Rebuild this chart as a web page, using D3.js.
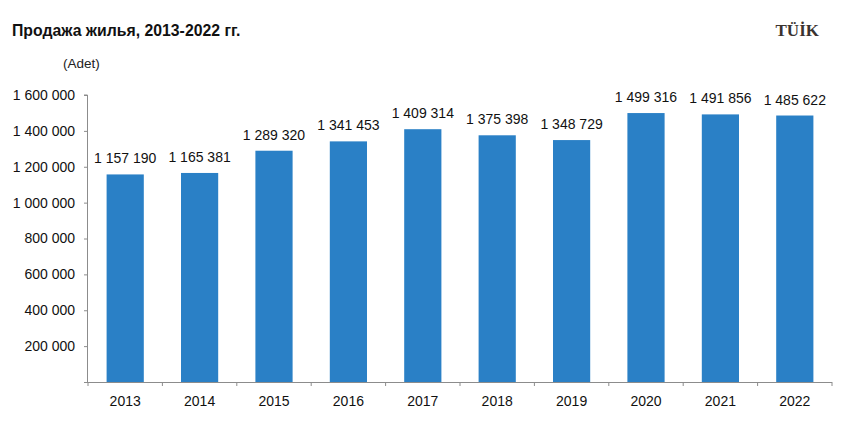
<!DOCTYPE html>
<html>
<head>
<meta charset="utf-8">
<script src="https://cdn.jsdelivr.net/npm/d3@7"></script>
<style>
  body { margin: 0; background: #fff; }
  text { font-family: "Liberation Sans", Arial, sans-serif; }
</style>
</head>
<body>
<div id="chart"></div>
<script>
// data
var years = ["2013", "2014", "2015", "2016", "2017", "2018", "2019", "2020", "2021", "2022"];
var sales = [1157190, 1165381, 1289320, 1341453, 1409314, 1375398, 1348729, 1499316, 1491856, 1485622];
var yTicks = [200000, 400000, 600000, 800000, 1000000, 1200000, 1400000, 1600000];

var width = 849, height = 424;
var margin = {top: 95, right: 17, bottom: 42, left: 88};
var w = width - margin.left - margin.right,
    h = height - margin.top - margin.bottom;

// russian-style thousands: space separator
var fmt = function (v) {
    return d3.format(",")(v).replace(/,/g, " ");
};

var svg = d3.select("#chart")
    .append("svg")
    .attr("width", width)
    .attr("height", height);

// title
svg.append("text")
    .attr("x", 12)
    .attr("y", 36)
    .attr("font-size", "15.8px")
    .attr("font-weight", "bold")
    .attr("fill", "#111")
    .text("Продажа жилья, 2013-2022 гг.");

svg.append("text")
    .attr("x", 819)
    .attr("y", 36)
    .attr("text-anchor", "end")
    .attr("font-size", "17px")
    .attr("font-weight", "bold")
    .style("font-family", "'Liberation Serif', 'DejaVu Serif', serif")
    .attr("fill", "#3a3330")
    .text("TÜİK");

svg.append("text")
    .attr("x", 63)
    .attr("y", 68)
    .attr("font-size", "13.5px")
    .attr("fill", "#222")
    .text("(Adet)");

var g = svg.append("g")
    .attr("transform", "translate(" + margin.left + "," + margin.top + ")");

var x = d3.scaleBand()
    .domain(years)
    .range([0, w])
    .paddingInner(0.5)
    .paddingOuter(0.25);

var y = d3.scaleLinear()
    .domain([0, 1600000])
    .range([h, 0]);

// y axis
var yAxis = g.append("g")
    .call(d3.axisLeft(y).tickValues(yTicks).tickSize(4).tickPadding(9).tickFormat(fmt));
yAxis.select(".domain").attr("stroke", "#8c8c8c").attr("d", "M-0.5," + h + "V0H-4");
yAxis.selectAll(".tick line").attr("stroke", "#8c8c8c");
yAxis.selectAll(".tick text").attr("font-size", "14px").attr("fill", "#111")
    .style("font-family", "'Liberation Sans', Arial, sans-serif");

// bars
g.selectAll(".bar")
    .data(sales)
    .enter()
    .append("rect")
    .attr("class", "bar")
    .attr("x", function (d, i) { return x(years[i]); })
    .attr("y", function (d) { return y(d); })
    .attr("width", x.bandwidth())
    .attr("height", function (d) { return h - y(d); })
    .attr("fill", "#2a80c6");

// value labels
g.selectAll(".lbl")
    .data(sales)
    .enter()
    .append("text")
    .attr("class", "lbl")
    .attr("x", function (d, i) { return x(years[i]) + x.bandwidth() / 2; })
    .attr("y", function (d) { return y(d) - 11; })
    .attr("text-anchor", "middle")
    .attr("font-size", "14px")
    .attr("fill", "#111")
    .text(fmt);

// x axis
var xAxis = g.append("g")
    .attr("transform", "translate(0," + h + ")")
    .call(d3.axisBottom(x).tickSize(0).tickPadding(14));
xAxis.select(".domain").attr("stroke", "#8c8c8c").attr("d", "M-4,0.5H" + w);
xAxis.selectAll(".tick text").attr("font-size", "14px").attr("fill", "#111")
    .style("font-family", "'Liberation Sans', Arial, sans-serif");

// separators between categories
var bounds = d3.range(years.length + 1).map(function (i) { return i * w / years.length; });
g.selectAll(".sep")
    .data(bounds)
    .enter()
    .append("line")
    .attr("class", "sep")
    .attr("x1", function (d) { return d; })
    .attr("x2", function (d) { return d; })
    .attr("y1", h)
    .attr("y2", h + 4)
    .attr("stroke", "#8c8c8c");
</script>
</body>
</html>
